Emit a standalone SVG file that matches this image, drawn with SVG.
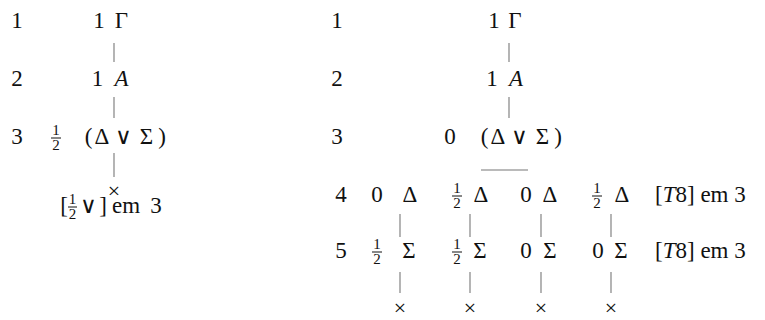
<svg xmlns="http://www.w3.org/2000/svg" width="765" height="320" viewBox="0 0 765 320">
<style>
.t{font-size:23px;fill:#111;text-anchor:middle}
.x{font-size:22px;fill:#111;text-anchor:middle}
.f{font-size:15px;fill:#111;text-anchor:middle}
.s{text-anchor:start}
.i{font-style:italic}
.bar{stroke:#111;stroke-width:1}
.c{stroke:#777;stroke-width:1.1;fill:none}
</style>
<rect width="765" height="320" fill="#fff"/>
<g font-family="Liberation Serif, serif">
<g id="left-rownums">
<text class="t" x="17" y="28">1</text>
<text class="t" x="17" y="86">2</text>
<text class="t" x="17" y="144">3</text>
</g>
<g id="l-n1"><text class="t" x="99" y="28">1</text><text class="t" x="121.5" y="28">Γ</text></g>
<g id="l-n2"><text class="t" x="97.5" y="86">1</text><text class="t i" x="121.5" y="86">A</text></g>
<g id="l-n3">
<text class="f" x="56" y="135">1</text><line class="bar" x1="51" y1="138" x2="61" y2="138"/><text class="f" x="56" y="150">2</text>
<text class="t" x="88.5" y="144">(</text><text class="t" x="102" y="144">Δ</text><text class="t" x="123.5" y="144">∨</text><text class="t" x="146.5" y="144">Σ</text><text class="t" x="162" y="144">)</text>
</g>
<g id="l-x"><text class="x" x="114" y="198">×</text></g>
<g id="l-label">
<text class="t" x="64" y="213">[</text>
<text class="f" x="72.5" y="204">1</text><line class="bar" x1="68" y1="207" x2="77" y2="207"/><text class="f" x="72.5" y="219">2</text>
<text class="t" x="88.5" y="213">∨</text><text class="t" x="103" y="213">]</text>
<text class="t s" x="112" y="213">em</text><text class="t" x="156" y="213">3</text>
</g>
<g id="right-rownums">
<text class="t" x="337" y="28">1</text>
<text class="t" x="337" y="86">2</text>
<text class="t" x="337" y="144">3</text>
<text class="t" x="341" y="202">4</text>
<text class="t" x="341" y="258">5</text>
</g>
<g id="r-n1"><text class="t" x="494" y="28">1</text><text class="t" x="515" y="28">Γ</text></g>
<g id="r-n2"><text class="t" x="492" y="86">1</text><text class="t i" x="516" y="86">A</text></g>
<g id="r-n3"><text class="t" x="450" y="144">0</text><text class="t" x="484.5" y="144">(</text><text class="t" x="498" y="144">Δ</text><text class="t" x="519.5" y="144">∨</text><text class="t" x="542.5" y="144">Σ</text><text class="t" x="558" y="144">)</text></g>
<g id="r-n4a"><text class="t" x="377" y="202">0</text><text class="t" x="410" y="202">Δ</text></g>
<g id="r-n4b"><text class="f" x="457" y="193">1</text><line class="bar" x1="452" y1="196" x2="462" y2="196"/><text class="f" x="457" y="208">2</text><text class="t" x="481" y="202">Δ</text></g>
<g id="r-n4c"><text class="t" x="526" y="202">0</text><text class="t" x="550" y="202">Δ</text></g>
<g id="r-n4d"><text class="f" x="597" y="193">1</text><line class="bar" x1="592" y1="196" x2="602" y2="196"/><text class="f" x="597" y="208">2</text><text class="t" x="622" y="202">Δ</text></g>
<g id="r-just4"><text class="t s" x="655" y="202">[<tspan class="i">T</tspan>8] em 3</text></g>
<g id="r-n5a"><text class="f" x="377" y="249">1</text><line class="bar" x1="372" y1="252" x2="382" y2="252"/><text class="f" x="377" y="264">2</text><text class="t" x="409" y="258">Σ</text></g>
<g id="r-n5b"><text class="f" x="457" y="249">1</text><line class="bar" x1="452" y1="252" x2="462" y2="252"/><text class="f" x="457" y="264">2</text><text class="t" x="480" y="258">Σ</text></g>
<g id="r-n5c"><text class="t" x="526" y="258">0</text><text class="t" x="550" y="258">Σ</text></g>
<g id="r-n5d"><text class="t" x="598" y="258">0</text><text class="t" x="621" y="258">Σ</text></g>
<g id="r-just5"><text class="t s" x="655" y="258">[<tspan class="i">T</tspan>8] em 3</text></g>
<g id="r-x1"><text class="x" x="400" y="315">×</text></g>
<g id="r-x2"><text class="x" x="470" y="315">×</text></g>
<g id="r-x3"><text class="x" x="541" y="315">×</text></g>
<g id="r-x4"><text class="x" x="611" y="315">×</text></g>
</g>
<g id="connectors">
<line class="c" x1="114" y1="43" x2="114" y2="62"/>
<line class="c" x1="114" y1="97" x2="114" y2="118"/>
<line class="c" x1="114" y1="153" x2="114" y2="177"/>
<line class="c" x1="509" y1="43" x2="509" y2="62"/>
<line class="c" x1="509" y1="97" x2="509" y2="118"/>
<line class="c" x1="481" y1="170" x2="528" y2="170"/>
<line class="c" x1="400" y1="214" x2="400" y2="237"/>
<line class="c" x1="470" y1="214" x2="470" y2="237"/>
<line class="c" x1="541" y1="214" x2="541" y2="237"/>
<line class="c" x1="611" y1="214" x2="611" y2="237"/>
<line class="c" x1="400" y1="272" x2="400" y2="293"/>
<line class="c" x1="470" y1="272" x2="470" y2="293"/>
<line class="c" x1="541" y1="272" x2="541" y2="293"/>
<line class="c" x1="611" y1="272" x2="611" y2="293"/>
</g>
</svg>
